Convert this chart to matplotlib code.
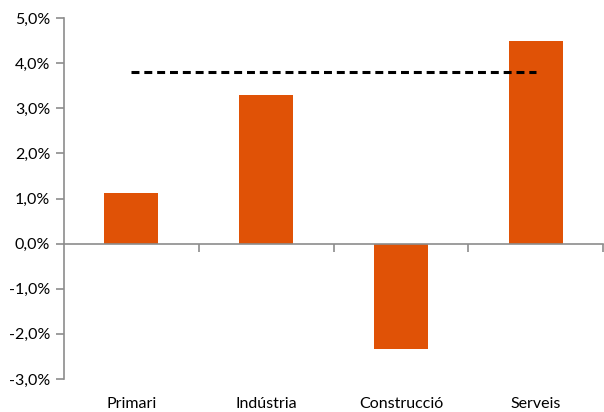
import matplotlib.pyplot as plt
from matplotlib.ticker import FuncFormatter
import matplotlib.transforms as mtransforms

sectors = ["Primari", "Indústria", "Construcció", "Serveis"]
growth = [1.13, 3.3, -2.33, 4.5]
average = 3.8

plt.rcParams['font.family'] = ['Lato', 'DejaVu Sans']

fig = plt.figure(figsize=(6.04, 4.12), dpi=100)
ax = fig.add_axes([64/604, 1 - 379/412, 539/604, 361/412])

x = range(len(sectors))
ax.bar(x, growth, width=0.4, color="#E05206", zorder=2)
ax.plot([0, len(sectors) - 1], [average, average], color="black", lw=2.2,
        linestyle=(0, (2.6, 1.6)), zorder=3)

ax.set_xlim(-0.5, len(sectors) - 0.5)
ax.set_ylim(-3, 5)
ax.set_yticks(range(-3, 6))
ax.yaxis.set_major_formatter(FuncFormatter(lambda v, p: f"{v:.1f}%".replace(".", ",")))

for s in ["top", "right"]:
    ax.spines[s].set_visible(False)
ax.spines["bottom"].set_position(("data", 0))
for s in ["left", "bottom"]:
    ax.spines[s].set_color("#8c8c8c")
    ax.spines[s].set_linewidth(1.2)

ax.set_xticks([i + 0.5 for i in x])
ax.set_xticklabels([])
ax.tick_params(axis="x", direction="out", length=6, color="#8c8c8c", width=1.2)
ax.tick_params(axis="y", direction="out", length=6, color="#8c8c8c", width=1.2,
               labelsize=11.5, pad=4)

trans = mtransforms.blended_transform_factory(ax.transData, ax.transAxes)
for i, name in enumerate(sectors):
    ax.text(i, -0.07, name, transform=trans, ha="center", va="center", fontsize=11.5)

fig.savefig("out.png", dpi=100)
